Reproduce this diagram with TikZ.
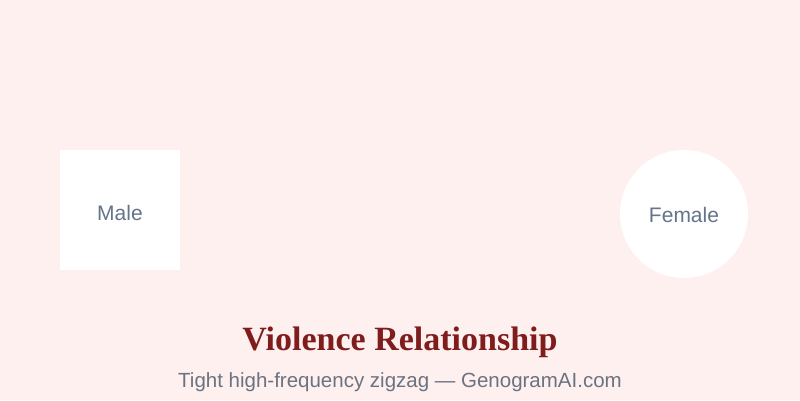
\documentclass[tikz,border=0pt]{standalone}
\usepackage{fontspec}
\setmainfont{Liberation Sans}
\newfontfamily\titlefont{Liberation Serif}
\definecolor{bgpink}{HTML}{FFF0F0}
\definecolor{labelgray}{HTML}{64748B}
\definecolor{titlered}{HTML}{7F1D1D}
\definecolor{subgray}{HTML}{6B7280}
\begin{document}
\begin{tikzpicture}[x=1pt,y=-1pt,
  person/.style={fill=white,draw=none,inner sep=0pt},
  labeltext/.style={text=labelgray,font=\fontsize{21}{24}\selectfont,inner sep=0pt},
  maleshape/.style={person,rectangle,minimum width=120pt,minimum height=120pt},
  femaleshape/.style={person,circle,minimum size=128pt},
  titlestyle/.style={text=titlered,font=\titlefont\bfseries\fontsize{34}{38}\selectfont},
  substyle/.style={text=subgray,font=\fontsize{20.5}{24}\selectfont}]
\fill[bgpink] (0,0) rectangle (800,400);
\useasboundingbox (0,0) rectangle (800,400);
\node[maleshape] (male) at (120,210) {};
\node[labeltext] (malelabel) at (120,212.5) {Male};
\node[femaleshape] (female) at (684,214) {};
\node[labeltext] (femalelabel) at (684,214.5) {Female};
\node[titlestyle,anchor=base] (title) at (400,350) {Violence Relationship};
\node[substyle,anchor=base] (sub) at (400,387) {Tight high-frequency zigzag — GenogramAI.com};
\end{tikzpicture}
\end{document}
